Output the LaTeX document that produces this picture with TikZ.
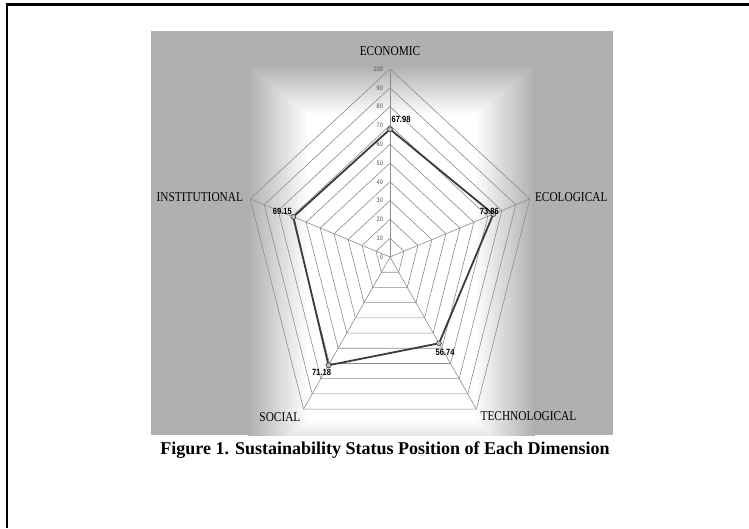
\documentclass[tikz,border=0pt]{standalone}
\usepackage{graphicx}
\usepackage{fontspec}
\setmainfont{Liberation Serif}
\newfontfamily\numfont{Liberation Sans}
\usetikzlibrary{positioning}

\definecolor{bggray}{RGB}{176,176,176}
\definecolor{gridgray}{RGB}{140,140,140}
\definecolor{linegray}{RGB}{60,60,60}
\newcommand{\sqz}[1]{\scalebox{0.84}[1]{#1}}

\tikzset{
  axislabel/.style={font=\fontsize{13.5}{15}\selectfont, text=black, inner sep=0pt},
  vallabel/.style={font=\numfont\bfseries\fontsize{9}{10}\selectfont, inner sep=0pt},
  ticklabel/.style={font=\numfont\fontsize{6.5}{7}\selectfont, text=black!70, anchor=east, inner sep=0pt},
  gridline/.style={gridgray, line width=0.6pt},
  dataline/.style={linegray, line width=1.8pt, line join=round},
  datapt/.style={circle, draw=linegray, fill=black!25, line width=0.6pt, inner sep=0pt, minimum size=5pt}
}

\begin{document}
\begin{tikzpicture}[x=1pt,y=-1pt]
    \useasboundingbox (0,0) rectangle (749,528);
    \draw[line width=2.5pt] (7,528) -- (7,4.5) -- (749,4.5);

    % background panel
    \fill[bggray] (151,31) rectangle (613,435);
    \begin{scope}
      \clip (151,31) rectangle (613,435);
      \foreach \i in {0,...,33}{
          \pgfmathsetmacro\p{100*\i/33}
          \fill[white!\p!bggray] ({248+1.8*\i},{65+1.5*\i}) rectangle ({535-1.8*\i},{470-1.5*\i});
        }
    \end{scope}

    \begin{scope}[shift={(390,257)},x=1.47pt,y=1.88pt]
      \foreach \k in {10,20,...,100}{
          \draw[gridline] (90:\k) -- (18:\k) -- (-54:\k) -- (-126:\k) -- (162:\k) -- cycle;
        }
      \foreach \a/\n in {90/eco,18/ecl,-54/tec,-126/soc,162/ins}{
          \coordinate (v\n) at (\a:100);
          \draw[gridline] (0,0) -- (v\n);
        }
      \foreach \k in {0,10,...,100}{
          \node[ticklabel] (tick\k) at ([xshift=-7pt]90:\k) {\sqz{\k}};
        }

      \coordinate (deco) at (90:67.98);
      \coordinate (decl) at (18:73.86);
      \coordinate (dtec) at (-54:56.74);
      \coordinate (dsoc) at (-126:71.18);
      \coordinate (dins) at (162:69.15);
      \draw[dataline] (deco) -- (decl) -- (dtec) -- (dsoc) -- (dins) -- cycle;
      \foreach \n in {eco,ecl,tec,soc,ins}{
          \node[datapt] (m\n) at (d\n) {};
        }
    \end{scope}

    \node[vallabel] (leco) at ([shift={(11pt,10pt)}]meco) {\sqz{67.98}};
    \node[vallabel] (lecl) at ([shift={(-4pt,3pt)}]mecl) {\sqz{73.86}};
    \node[vallabel] (ltec) at ([shift={(6pt,-9pt)}]mtec) {\sqz{56.74}};
    \node[vallabel] (lsoc) at ([shift={(-7pt,-7pt)}]msoc) {\sqz{71.18}};
    \node[vallabel] (lins) at ([shift={(-11pt,5pt)}]mins) {\sqz{69.15}};

    \node[axislabel, above=13pt of veco] (neco) {\sqz{ECONOMIC}};
    \node[axislabel, right=5pt of vecl, yshift=2pt] (necl) {\sqz{ECOLOGICAL}};
    \node[axislabel, below right=2.5pt and 4pt of vtec] (ntec) {\sqz{TECHNOLOGICAL}};
    \node[axislabel, below left=3.5pt and 3pt of vsoc] (nsoc) {\sqz{SOCIAL}};
    \node[axislabel, left=7pt of vins, yshift=2pt] (nins) {\sqz{INSTITUTIONAL}};

    \node[font=\bfseries\fontsize{18}{20}\selectfont, inner sep=0pt] (caption) at (385,450)
      {Figure 1. Sustainability Status Position of Each Dimension};
  \end{tikzpicture}
\end{document}
